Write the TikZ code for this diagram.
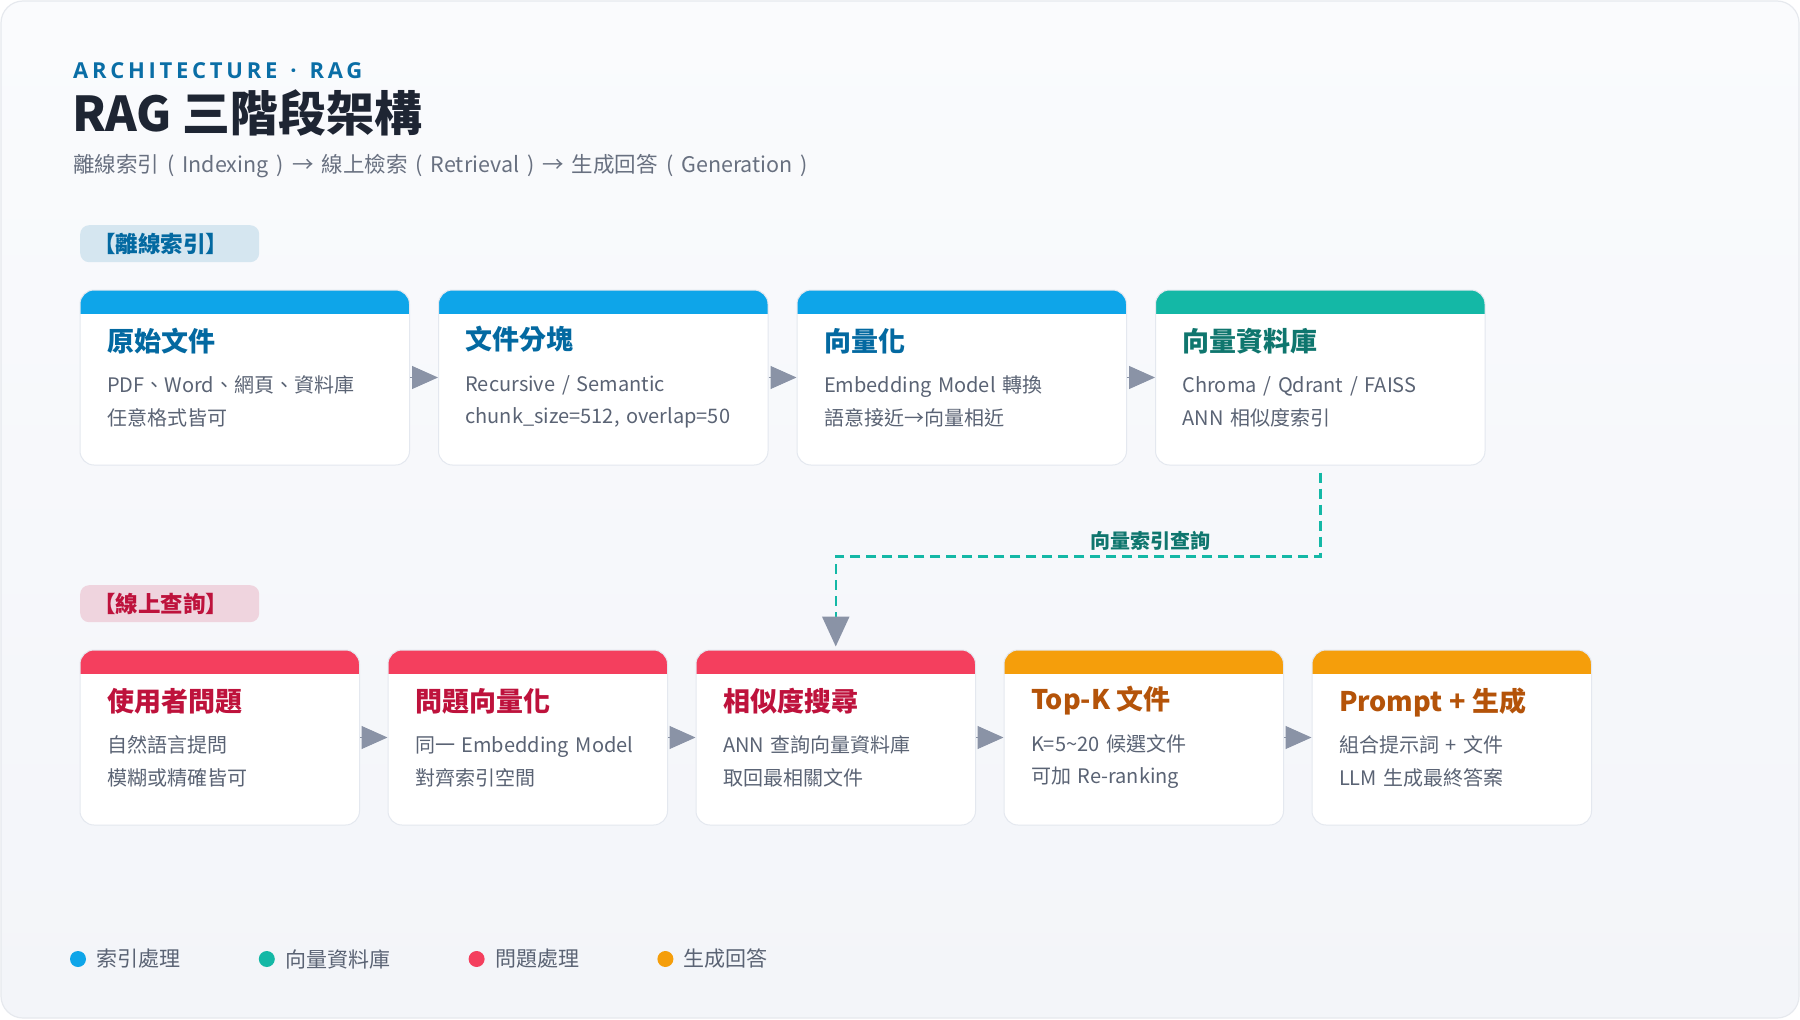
\documentclass[tikz,border=0pt]{standalone}
\usepackage{fontspec}
\setmainfont{Noto Sans CJK TC}
\newfontfamily\kickerfont{Open Sans}[LetterSpace=17]
\usetikzlibrary{arrows.meta,positioning,calc}
\definecolor{bgtop}{HTML}{FAFBFD}
\definecolor{bgbot}{HTML}{F3F5F9}
\definecolor{bgline}{HTML}{E6E9EE}
\definecolor{cardline}{HTML}{E4E8EF}
\definecolor{ink}{HTML}{1E2533}
\definecolor{kicker}{HTML}{0A6EA6}
\definecolor{subgray}{HTML}{687080}
\definecolor{bodygray}{HTML}{5A6374}
\definecolor{arrowgray}{HTML}{8A93A6}
\definecolor{idxblue}{HTML}{0EA5E9}
\definecolor{idxtitle}{HTML}{0369A1}
\definecolor{idxtag}{HTML}{D5E6F0}
\definecolor{dbteal}{HTML}{14B8A6}
\definecolor{dbtitle}{HTML}{0F766E}
\definecolor{qred}{HTML}{F43F5E}
\definecolor{qtitle}{HTML}{BE123C}
\definecolor{qtag}{HTML}{EFD4DE}
\definecolor{genorange}{HTML}{F59E0B}
\definecolor{gentitle}{HTML}{B45309}
\newcommand\stage[4]{{\color{#1}\fontsize{27}{32}\selectfont\bfseries #2}\\[9pt]#3\\#4}

\begin{document}
\begin{tikzpicture}[x=1pt,y=-1pt,
  node distance=28pt,
  head/.style={anchor=base west,inner sep=0pt},
  tag/.style={anchor=north west,rounded corners=9pt,minimum width=179pt,minimum height=37pt,
              text width=153pt,inner xsep=13pt,inner ysep=0pt,align=left,
              font=\fontsize{22.5}{24}\selectfont\bfseries},
  card/.style={draw=cardline,line width=1pt,fill=white,rounded corners=14pt,
               minimum height=175pt,inner xsep=27pt,inner ysep=0pt,align=left,
               font=\fontsize{20}{32.5}\selectfont,text=bodygray},
  wide/.style={card,text width=275.5pt},
  narrow/.style={card,text width=225.5pt},
  hdr/.style={path picture={\fill[#1,sharp corners] (path picture bounding box.north west)
              rectangle ([yshift=-24pt]path picture bounding box.north east);}},
  flow/.style={-{Triangle[length=26pt,width=23pt]},line width=1pt,color=arrowgray},
  link/.style={dbteal,line width=2.5pt,dash pattern=on 10pt off 6pt,
               -{Triangle[length=30pt,width=27pt,color=arrowgray]}},
  linklabel/.style={inner sep=2pt,font=\fontsize{20}{24}\selectfont\bfseries,text=dbtitle},
  dot/.style={circle,minimum size=16pt,inner sep=0pt},
  legend/.style={inner sep=0pt,font=\fontsize{21}{24}\selectfont,text=bodygray}
]
  \useasboundingbox (0,0) rectangle (1800,1020);
  \fill[white] (0,0) rectangle (1800,1020);
  \shadedraw[top color=bgtop,bottom color=bgbot,draw=bgline,line width=1.2pt,rounded corners=22pt]
    (1,1) rectangle (1799,1018);

  % heading
  \node[head,font=\kickerfont\fontsize{22}{26}\selectfont\bfseries,text=kicker] (kicker) at (73,78)
    {\spaceskip=13pt\relax ARCHITECTURE · RAG};
  \node[head,font=\fontsize{48}{58}\selectfont\bfseries,text=ink] (title) at (72,131) {RAG 三階段架構};
  \node[head,font=\fontsize{21.5}{26}\selectfont,text=subgray] (sub) at (73,172)
    {\spaceskip=8pt\relax 離線索引 ( Indexing ) → 線上檢索 ( Retrieval ) → 生成回答 ( Generation )};

  % offline indexing
  \node[tag,fill=idxtag,text=idxtitle] (tagIdx) at (80,225) {【離線索引】};
  \node[wide,hdr=idxblue] (raw) at (244.75,377.5) {\stage{idxtitle}{原始文件}{PDF、Word、網頁、資料庫}{任意格式皆可}};
  \node[wide,hdr=idxblue,right=of raw] (chunk) {\stage{idxtitle}{文件分塊}{Recursive / Semantic}{chunk\_size=512, overlap=50}};
  \node[wide,hdr=idxblue,right=of chunk] (embed) {\stage{idxtitle}{向量化}{Embedding Model 轉換}{語意接近→向量相近}};
  \node[wide,hdr=dbteal,right=of embed] (vdb) {\stage{dbtitle}{向量資料庫}{Chroma / Qdrant / FAISS}{ANN 相似度索引}};

  % online query
  \node[tag,fill=qtag,text=qtitle] (tagQry) at (80,585) {【線上查詢】};
  \node[narrow,hdr=qred] (ask) at (219.75,737.5) {\stage{qtitle}{使用者問題}{自然語言提問}{模糊或精確皆可}};
  \node[narrow,hdr=qred,right=27.5pt of ask] (qvec) {\stage{qtitle}{問題向量化}{同一 Embedding Model}{對齊索引空間}};
  \node[narrow,hdr=qred,right=27.5pt of qvec] (search) {\stage{qtitle}{相似度搜尋}{ANN 查詢向量資料庫}{取回最相關文件}};
  \node[narrow,hdr=genorange,right=27.5pt of search] (topk) {\stage{gentitle}{Top-K 文件}{K=5\textasciitilde20 候選文件}{可加 Re-ranking}};
  \node[narrow,hdr=genorange,right=27.5pt of topk] (gen) {\stage{gentitle}{Prompt + 生成}{組合提示詞 + 文件}{LLM 生成最終答案}};

  \foreach \a/\b in {raw/chunk,chunk/embed,embed/vdb,ask/qvec,qvec/search,search/topk,topk/gen}
    \draw[flow] (\a) -- (\b);

  % index lookup
  \coordinate (lookTop) at ($(vdb.south)+(0,7)$);
  \coordinate (lookBend) at ($(vdb.south)+(0,91)$);
  \coordinate (lookLeft) at (search.north |- lookBend);
  \draw[link] (lookTop) -- (lookBend)
    -- node[pos=0.35,above=3pt,linklabel]{向量索引查詢} (lookLeft) -- ([yshift=3pt]search.north);

  % legend
  \node[dot,fill=idxblue] (k1) at (78,959) {};
  \node[legend,right=10pt of k1] (k1t) {索引處理};
  \node[dot,fill=dbteal,right=78pt of k1t] (k2) {};
  \node[legend,right=10pt of k2] (k2t) {向量資料庫};
  \node[dot,fill=qred,right=78pt of k2t] (k3) {};
  \node[legend,right=10pt of k3] (k3t) {問題處理};
  \node[dot,fill=genorange,right=78pt of k3t] (k4) {};
  \node[legend,right=10pt of k4] (k4t) {生成回答};
\end{tikzpicture}
\end{document}
